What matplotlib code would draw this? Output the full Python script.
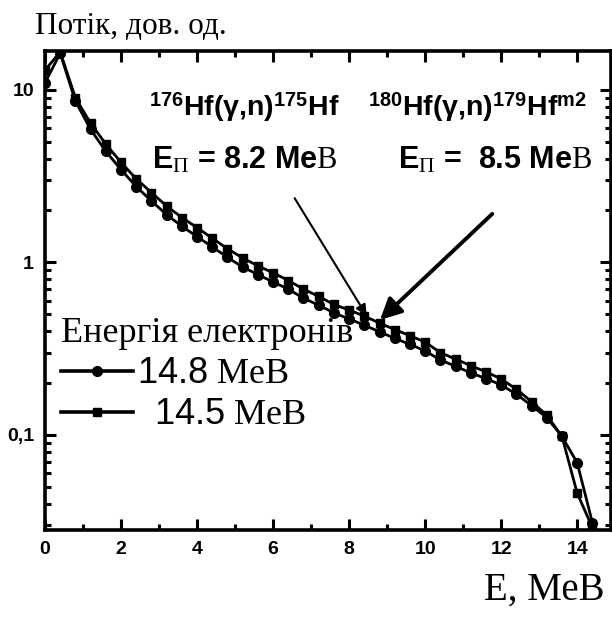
import matplotlib
matplotlib.use("Agg")
import matplotlib.pyplot as plt
from matplotlib.ticker import FixedLocator, LogLocator, NullFormatter

plt.rcParams['mathtext.fontset'] = 'custom'
plt.rcParams['mathtext.rm'] = 'Liberation Serif'
plt.rcParams['mathtext.sf'] = 'Liberation Sans'
plt.rcParams['mathtext.bf'] = 'Liberation Sans:bold'
plt.rcParams['mathtext.it'] = 'Liberation Serif:italic'

# ---- data ----
energy = [0.0, 0.4, 0.8, 1.2, 1.6, 2.0, 2.4, 2.8, 3.2, 3.6, 4.0, 4.4, 4.8, 5.2,
          5.6, 6.0, 6.4, 6.8, 7.2, 7.6, 8.0, 8.4, 8.8, 9.2, 9.6, 10.0, 10.4,
          10.8, 11.2, 11.6, 12.0, 12.4, 12.8, 13.2, 13.6, 14.0, 14.4]
flux_148 = [11.0, 16.3, 8.6, 5.9, 4.4, 3.45, 2.75, 2.27, 1.89, 1.62, 1.41, 1.23,
            1.07, 0.94, 0.85, 0.77, 0.70, 0.62, 0.565, 0.51, 0.47, 0.433, 0.396,
            0.363, 0.335, 0.307, 0.272, 0.25, 0.229, 0.212, 0.195, 0.172, 0.148,
            0.126, 0.098, 0.069, 0.031]
flux_145 = [13.0, 16.6, 9.0, 6.4, 4.85, 3.8, 3.05, 2.54, 2.12, 1.82, 1.59, 1.38,
            1.2, 1.06, 0.955, 0.87, 0.785, 0.70, 0.635, 0.57, 0.53, 0.488, 0.445,
            0.408, 0.376, 0.345, 0.30, 0.275, 0.252, 0.232, 0.211, 0.184, 0.156,
            0.13, 0.098, 0.046, 0.029]
series_labels = [r"$\mathsf{14.8}$ $\mathrm{МеВ}$", r"$\mathsf{\ \ 14.5}$ $\mathrm{МеВ}$"]
x_ticks = [0, 2, 4, 6, 8, 10, 12, 14]
y_ticks = [0.1, 1, 10]
y_tick_labels = ["0,1", "1", "10"]

fig = plt.figure(figsize=(6.12, 6.17), dpi=100)
ax = fig.add_axes([45/612, 1-530/617, 566/612, 479/617])

ax.plot(energy, flux_148, color='black', lw=2.0, marker='o', ms=7,
        label=series_labels[0])
ax.plot(energy, flux_145, color='black', lw=2.0, marker='s', ms=6,
        label=series_labels[1])

ax.set_yscale('log')
ax.set_xlim(0, 14.89)
ax.set_ylim(0.0281, 16.8)

ax.xaxis.set_major_locator(FixedLocator(x_ticks))
ax.xaxis.set_minor_locator(FixedLocator([1, 3, 5, 7, 9, 11, 13]))
ax.set_xticklabels([str(t) for t in x_ticks])
ax.yaxis.set_major_locator(FixedLocator(y_ticks))
ax.set_yticklabels(y_tick_labels)
ax.yaxis.set_minor_locator(LogLocator(base=10, subs=range(2, 10)))
ax.yaxis.set_minor_formatter(NullFormatter())

for sp in ax.spines.values():
    sp.set_linewidth(2.6)
ax.tick_params(which='both', direction='in', top=True, right=True, width=2.2)
ax.tick_params(which='major', length=8, pad=8)
ax.tick_params(which='minor', length=4.5)
for lab in ax.get_xticklabels() + ax.get_yticklabels():
    lab.set_fontfamily('Liberation Sans')
    lab.set_fontweight('bold')
    lab.set_fontsize(14)

# annotations
txt_kw = dict(fontfamily='Liberation Sans', fontweight='bold',
              ha='left', va='center')
ax.text(2.74, 7.96, r"$^{\mathbf{176}}$Hf(γ,n)$^{\mathbf{175}}$Hf", fontsize=20.5, **txt_kw)
ax.text(2.82, 3.93, r"E$_{\mathrm{П}}$ = 8.2 Me$\mathrm{В}$", fontsize=22, **txt_kw)
ax.text(8.5, 7.96, r"$^{\mathbf{180}}$Hf(γ,n)$^{\mathbf{179}}$Hf$^{\mathbf{m2}}$", fontsize=20.5, **txt_kw)
ax.text(9.29, 3.93, r"E$_{\mathrm{П}}$ =  8.5 Me$\mathrm{В}$", fontsize=22, **txt_kw)

ax.annotate("", xy=(8.5, 0.476), xytext=(6.53, 2.43),
            arrowprops=dict(arrowstyle='-|>', color='black', lw=1.5,
                            mutation_scale=16))
ax.annotate("", xy=(8.76, 0.452), xytext=(11.82, 1.96),
            arrowprops=dict(arrowstyle='-|>', color='black', lw=2.8,
                            mutation_scale=32))

leg = ax.legend(loc='upper left', bbox_to_anchor=(-0.01, 0.49), frameon=False,
                title="Енергія електронів",
                prop={'family': 'Liberation Serif', 'size': 26},
                title_fontproperties={'family': 'Liberation Serif', 'size': 26},
                handlelength=2.0, handletextpad=0.1, labelspacing=0.22,
                borderpad=0.1)
leg._legend_box.align = 'left'
for h in leg.legend_handles:
    h.set_linewidth(2.6)

fig.text(35/612, 1-27/617, "Потік, дов. од.", fontfamily='Liberation Serif',
         fontsize=22.5, ha='left', va='center')
fig.text(605/612, 1-590/617, "E, МеВ", fontfamily='Liberation Serif',
         fontsize=28, ha='right', va='center')

fig.savefig("out.png", dpi=100)
